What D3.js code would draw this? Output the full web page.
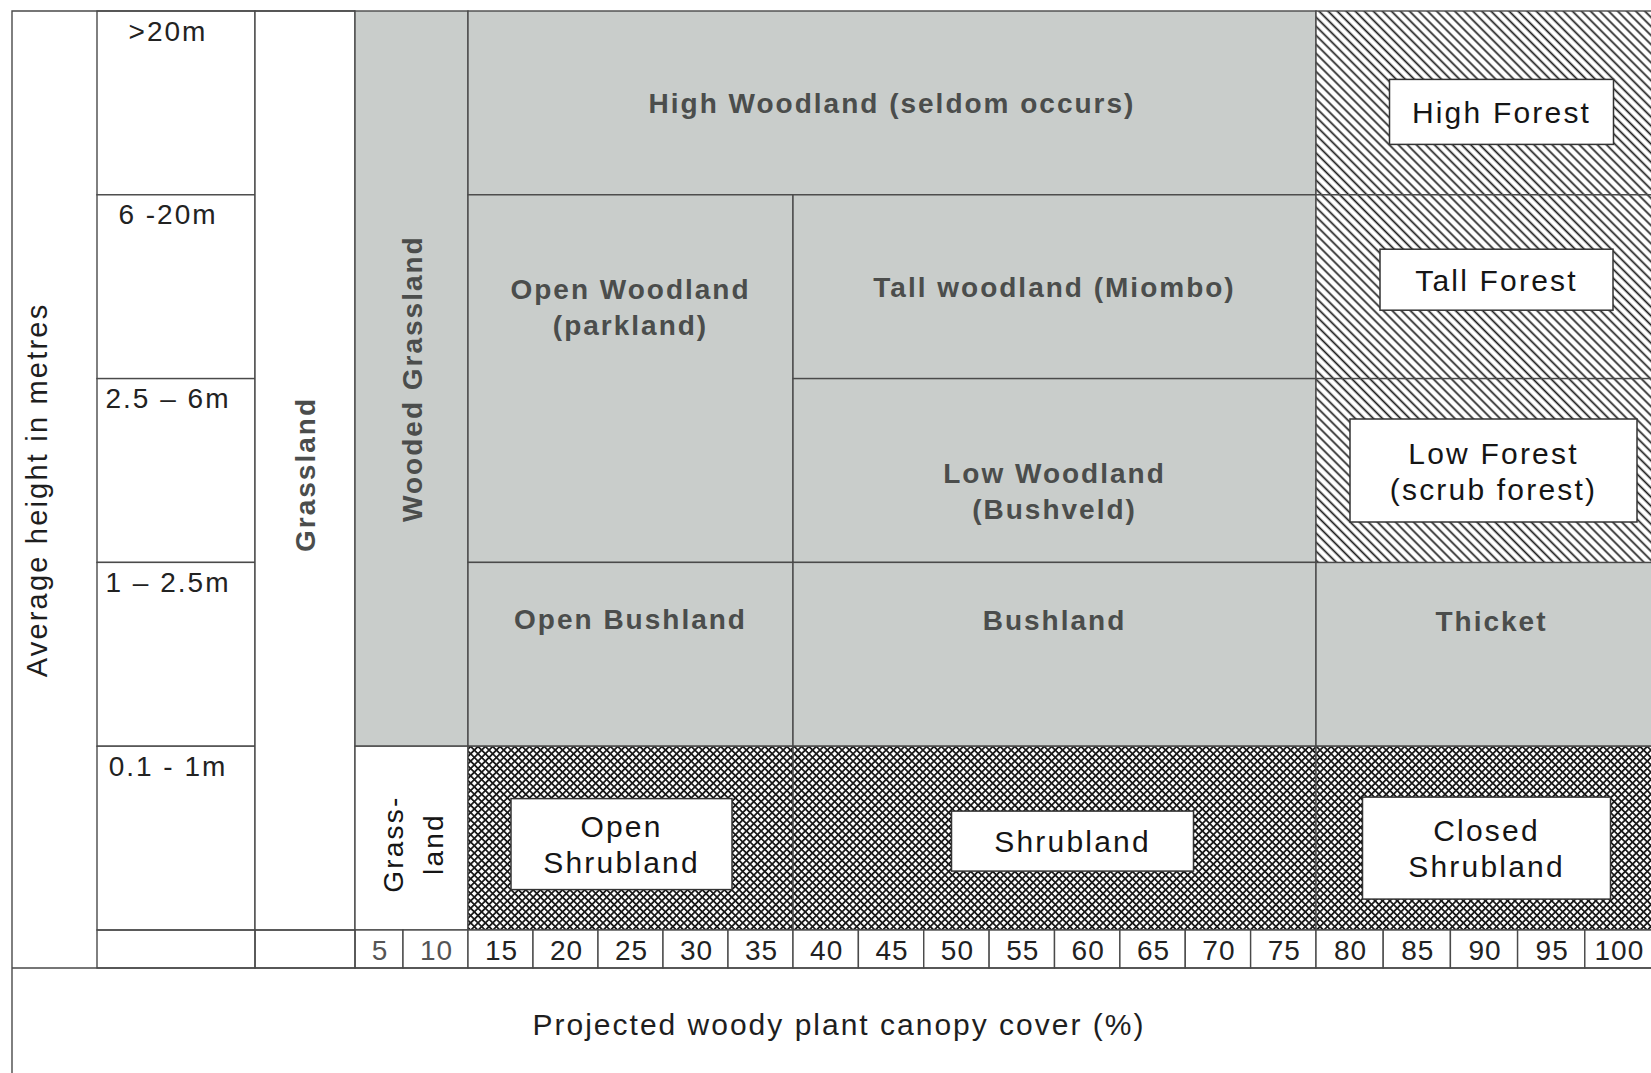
<!DOCTYPE html>
<html>
<head>
<meta charset="utf-8">
<script src="https://cdn.jsdelivr.net/npm/d3@7"></script>
<style>
  html, body { margin: 0; padding: 0; background: #fff; }
  svg { display: block; }
</style>
</head>
<body>
<div id="chart"></div>
<script>
// height classes (rows, top to bottom)
const heightClasses = ['>20m', '6 -20m', '2.5 – 6m', '1 – 2.5m', '0.1 - 1m'];
// canopy cover tick cells (%)
const coverTicks = [5, 10, 15, 20, 25, 30, 35, 40, 45, 50, 55, 60, 65, 70, 75, 80, 85, 90, 95, 100];

// vegetation zones
const zoneLabels = [
  'Wooded Grassland', 'High Woodland (seldom occurs)', 'Open Woodland\n(parkland)',
  'Tall woodland (Miombo)', 'Low Woodland\n(Bushveld)', 'Open Bushland', 'Bushland', 'Thicket',
  'High Forest', 'Tall Forest', 'Low Forest\n(scrub forest)',
  'Grass-\nland', 'Open\nShrubland', 'Shrubland', 'Closed\nShrubland'
];
const zoneCoverFrom = [0, 10, 10, 35, 35, 10, 35, 75, 75, 75, 75, 0, 10, 35, 75];
const zoneCoverTo = [10, 75, 35, 75, 75, 35, 75, 100, 100, 100, 100, 10, 35, 75, 100];
const zoneTallest = ['>20m', '>20m', '6 -20m', '6 -20m', '2.5 – 6m', '1 – 2.5m', '1 – 2.5m', '1 – 2.5m',
  '>20m', '6 -20m', '2.5 – 6m', '0.1 - 1m', '0.1 - 1m', '0.1 - 1m', '0.1 - 1m'];
const zoneShortest = ['1 – 2.5m', '>20m', '2.5 – 6m', '6 -20m', '2.5 – 6m', '1 – 2.5m', '1 – 2.5m', '1 – 2.5m',
  '>20m', '6 -20m', '2.5 – 6m', '0.1 - 1m', '0.1 - 1m', '0.1 - 1m', '0.1 - 1m'];
const zoneKinds = ['shade', 'shade', 'shade', 'shade', 'shade', 'shade', 'shade', 'shade',
  'hatch', 'hatch', 'hatch', 'open', 'cross', 'cross', 'cross'];

const grasslandLabel = 'Grassland';
const xTitle = 'Projected woody plant canopy cover (%)';
const yTitle = 'Average height in metres';

// label placement tweaks (layout only)
const labelLayout = {
  'Wooded Grassland': { rotate: true },
  'Grass-\nland': { rotate: true, dx: 1, dy: 6 },
  'Open Woodland\n(parkland)': { dy: -72 },
  'Low Woodland\n(Bushveld)': { dy: 20 },
  'Open Bushland': { dy: -35 },
  'Bushland': { dy: -34 },
  'Thicket': { dx: 8, dy: -33 },
  'High Forest': { dx: 18, dy: 9, box: [224, 65] },
  'Tall Forest': { dx: 13, dy: -7, box: [233, 61] },
  'Low Forest\n(scrub forest)': { dx: 10, dy: 0, box: [287, 103] },
  'Open\nShrubland': { dx: -9, dy: 6, box: [221, 91] },
  'Shrubland': { dx: 18, dy: 3, box: [242, 60] },
  'Closed\nShrubland': { dx: 3, dy: 10, box: [248, 102] }
};

const width = 1651;
const height = 1073;
const FONT = '"Liberation Sans", Arial, Helvetica, sans-serif';
const LINE = '#4a4a4a';
const SHADE = '#c9cdcb';
const frame = { left: 12, top: 11, gridBottom: 930, tickBottom: 968, hLeft: 97, hRight: 255, gRight: 355 };

const svg = d3.select('#chart')
  .append('svg')
  .attr('width', width)
  .attr('height', height);

svg.append('rect').attr('width', width).attr('height', height).attr('fill', '#fff');

// the printed cover axis is not evenly spaced at its ends
const x = d3.scaleLinear()
  .domain([0, 5, 10, 35, 75, 100])
  .range([frame.gRight, 403, 468, 793, 1316, 1652]);

const y = d3.scaleBand()
  .domain(heightClasses)
  .range([frame.top, frame.gridBottom]);

// patterns
const defs = svg.append('defs');
const hatch = defs.append('pattern')
  .attr('id', 'hatch')
  .attr('patternUnits', 'userSpaceOnUse')
  .attr('width', 6.4).attr('height', 6.4)
  .attr('patternTransform', 'rotate(-45)');
hatch.append('rect').attr('width', 6.4).attr('height', 6.4).attr('fill', '#fff');
hatch.append('line')
  .attr('x1', 3.2).attr('x2', 3.2).attr('y1', 0).attr('y2', 6.4)
  .attr('stroke', '#1c1c1c').attr('stroke-width', 1.7);

const cross = defs.append('pattern')
  .attr('id', 'cross')
  .attr('patternUnits', 'userSpaceOnUse')
  .attr('width', 5.2).attr('height', 5.2)
  .attr('patternTransform', 'rotate(45)');
cross.append('rect').attr('width', 5.2).attr('height', 5.2).attr('fill', '#fff');
cross.append('path')
  .attr('d', 'M2.6,0V5.2M0,2.6H5.2')
  .attr('stroke', '#1a1a1a').attr('stroke-width', 1.8);

const fills = { shade: SHADE, hatch: 'url(#hatch)', cross: 'url(#cross)', open: '#fff' };

const zones = zoneLabels.map((label, i) => ({
  label,
  from: zoneCoverFrom[i],
  to: zoneCoverTo[i],
  tallest: zoneTallest[i],
  shortest: zoneShortest[i],
  kind: zoneKinds[i]
}));

const zoneBox = (d) => {
  const x0 = x(d.from);
  const x1 = x(d.to);
  const y0 = y(d.tallest);
  const y1 = y(d.shortest) + y.bandwidth();
  return { x0, x1, y0, y1 };
};

// height class column
svg.append('g')
  .selectAll('rect')
  .data(heightClasses)
  .enter().append('rect')
    .attr('x', frame.hLeft)
    .attr('y', (d) => y(d))
    .attr('width', frame.hRight - frame.hLeft)
    .attr('height', y.bandwidth())
    .attr('fill', '#fff')
    .attr('stroke', LINE)
    .attr('stroke-width', 1.4);

svg.append('g')
  .selectAll('text')
  .data(heightClasses)
  .enter().append('text')
    .attr('x', 168)
    .attr('y', (d) => y(d) + 20)
    .attr('text-anchor', 'middle')
    .attr('dominant-baseline', 'central')
    .attr('font-family', FONT)
    .attr('font-size', 28)
    .attr('letter-spacing', 2)
    .attr('fill', '#222')
    .text((d) => d);

// grassland column
svg.append('rect')
  .attr('x', frame.hRight)
  .attr('y', frame.top)
  .attr('width', frame.gRight - frame.hRight)
  .attr('height', frame.gridBottom - frame.top)
  .attr('fill', '#fff')
  .attr('stroke', LINE)
  .attr('stroke-width', 1.4);

svg.append('text')
  .attr('transform', `translate(${(frame.hRight + frame.gRight) / 2},${(frame.top + frame.gridBottom) / 2 + 4}) rotate(-90)`)
  .attr('text-anchor', 'middle')
  .attr('dominant-baseline', 'central')
  .attr('font-family', FONT)
  .attr('font-weight', 'bold')
  .attr('font-size', 28)
  .attr('letter-spacing', 2)
  .attr('fill', '#4b4d4c')
  .text(grasslandLabel);

// zones
svg.append('g')
  .selectAll('rect')
  .data(zones)
  .enter().append('rect')
    .attr('x', (d) => zoneBox(d).x0)
    .attr('y', (d) => zoneBox(d).y0)
    .attr('width', (d) => zoneBox(d).x1 - zoneBox(d).x0)
    .attr('height', (d) => zoneBox(d).y1 - zoneBox(d).y0)
    .attr('fill', (d) => fills[d.kind])
    .attr('stroke', LINE)
    .attr('stroke-width', 1.4);

// zone labels
const labelG = svg.append('g')
  .selectAll('g')
  .data(zones)
  .enter().append('g')
    .attr('transform', (d) => {
      const b = zoneBox(d);
      const lay = labelLayout[d.label] || {};
      const cx = (b.x0 + Math.min(b.x1, width)) / 2 + (lay.dx || 0);
      const cy = (b.y0 + b.y1) / 2 + (lay.dy || 0);
      return `translate(${cx},${cy})` + (lay.rotate ? ' rotate(-90)' : '');
    });

labelG.filter((d) => labelLayout[d.label] && labelLayout[d.label].box)
  .append('rect')
    .attr('x', (d) => -labelLayout[d.label].box[0] / 2)
    .attr('y', (d) => -labelLayout[d.label].box[1] / 2)
    .attr('width', (d) => labelLayout[d.label].box[0])
    .attr('height', (d) => labelLayout[d.label].box[1])
    .attr('fill', '#fff')
    .attr('stroke', '#333')
    .attr('stroke-width', 1.5);

labelG.each(function(d) {
  const lines = d.label.split('\n');
  const shaded = d.kind === 'shade';
  const lh = d.kind === 'open' ? 40 : 36;
  const t = d3.select(this).append('text')
    .attr('text-anchor', 'middle')
    .attr('dominant-baseline', 'central')
    .attr('font-family', FONT)
    .attr('font-weight', shaded ? 'bold' : 'normal')
    .attr('font-size', shaded || d.kind === 'open' ? 28 : 30)
    .attr('letter-spacing', shaded ? 2 : 2.2)
    .attr('fill', shaded ? '#4b4d4c' : '#151515');
  lines.forEach((line, i) => {
    t.append('tspan')
      .attr('x', 0)
      .attr('y', (i - (lines.length - 1) / 2) * lh)
      .text(line);
  });
});

// tick row
const tickLeft = (v) => Math.max(x(v - 5), frame.gRight);
const ticks = svg.append('g')
  .selectAll('g')
  .data(coverTicks)
  .enter().append('g');

ticks.append('rect')
  .attr('x', (d) => tickLeft(d))
  .attr('y', frame.gridBottom)
  .attr('width', (d) => x(d) - tickLeft(d))
  .attr('height', frame.tickBottom - frame.gridBottom)
  .attr('fill', '#fff')
  .attr('stroke', LINE)
  .attr('stroke-width', 1.4);

ticks.append('text')
  .attr('x', (d) => (tickLeft(d) + x(d)) / 2 + 1)
  .attr('y', (frame.gridBottom + frame.tickBottom) / 2 + 1)
  .attr('text-anchor', 'middle')
  .attr('dominant-baseline', 'central')
  .attr('font-family', FONT)
  .attr('font-size', 28)
  .attr('letter-spacing', 1)
  .attr('fill', (d) => d <= 10 ? '#555' : '#222')
  .text((d) => d);

// empty cells under the left columns
svg.append('g')
  .selectAll('rect')
  .data([[frame.hLeft, frame.hRight], [frame.hRight, frame.gRight]])
  .enter().append('rect')
    .attr('x', (d) => d[0])
    .attr('y', frame.gridBottom)
    .attr('width', (d) => d[1] - d[0])
    .attr('height', frame.tickBottom - frame.gridBottom)
    .attr('fill', 'none')
    .attr('stroke', LINE)
    .attr('stroke-width', 1.4);

// outer frame lines
svg.append('path')
  .attr('d', `M${frame.left},${height}V${frame.top}H${frame.gRight}` +
    `M${frame.left},${frame.tickBottom}H${width}`)
  .attr('fill', 'none')
  .attr('stroke', LINE)
  .attr('stroke-width', 1.4);

// axis titles
svg.append('text')
  .attr('transform', `translate(37,${490}) rotate(-90)`)
  .attr('text-anchor', 'middle')
  .attr('dominant-baseline', 'central')
  .attr('font-family', FONT)
  .attr('font-size', 29)
  .attr('letter-spacing', 2.2)
  .attr('fill', '#1e1e1e')
  .text(yTitle);

svg.append('text')
  .attr('x', 839)
  .attr('y', 1024)
  .attr('text-anchor', 'middle')
  .attr('dominant-baseline', 'central')
  .attr('font-family', FONT)
  .attr('font-size', 30)
  .attr('letter-spacing', 2)
  .attr('fill', '#1e1e1e')
  .text(xTitle);
</script>
</body>
</html>
